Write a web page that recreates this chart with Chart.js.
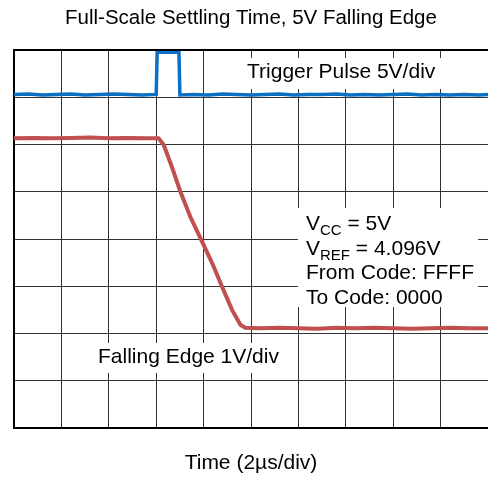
<!DOCTYPE html>
<html>
<head>
<meta charset="utf-8">
<script src="https://cdn.jsdelivr.net/npm/chart.js@4/dist/chart.umd.min.js"></script>
<style>
  html, body { margin: 0; padding: 0; background: #fff; }
  #wrap { width: 488px; height: 479px; position: relative; }
</style>
</head>
<body>
<div id="wrap"><canvas id="c" width="488" height="479"></canvas></div>
<script>
// Time axis in divisions (2 µs/div), vertical axis in screen divisions
const triggerX = [0, 0.3, 0.6, 0.9, 1.2, 1.5, 1.8, 2.1, 2.4, 2.7, 3.0, 3.02, 3.48, 3.50, 3.8, 4.1, 4.4, 4.7, 5.0, 5.3, 5.6, 5.9, 6.2, 6.5, 6.8, 7.1, 7.4, 7.7, 8.0, 8.3, 8.6, 8.9, 9.2, 9.5, 9.8, 10];
const triggerY = [7.06, 7.07, 7.05, 7.06, 7.07, 7.05, 7.06, 7.07, 7.06, 7.05, 7.06, 7.95, 7.95, 7.05, 7.06, 7.05, 7.07, 7.06, 7.05, 7.06, 7.07, 7.05, 7.06, 7.06, 7.07, 7.05, 7.06, 7.05, 7.06, 7.07, 7.05, 7.06, 7.05, 7.06, 7.05, 7.06];
const edgeX = [0, 0.4, 0.8, 1.2, 1.6, 2.0, 2.4, 2.8, 3.05, 3.16, 3.33, 3.51, 3.72, 3.97, 4.18, 4.39, 4.60, 4.78, 4.88, 5.2, 5.6, 6.0, 6.4, 6.8, 7.2, 7.6, 8.0, 8.4, 8.8, 9.2, 9.6, 10];
const edgeY = [6.13, 6.14, 6.13, 6.14, 6.15, 6.13, 6.14, 6.13, 6.13, 5.99, 5.53, 5.00, 4.47, 3.94, 3.49, 2.99, 2.50, 2.18, 2.12, 2.11, 2.12, 2.11, 2.10, 2.12, 2.11, 2.12, 2.11, 2.10, 2.11, 2.12, 2.11, 2.11];

const titleText = 'Full-Scale Settling Time, 5V Falling Edge';
const xTitleText = 'Time (2µs/div)';
const triggerLabel = 'Trigger Pulse 5V/div';
const edgeLabel = 'Falling Edge 1V/div';
const infoLines = [
  ['V', 'CC', ' = 5V'],
  ['V', 'REF', ' = 4.096V'],
  ['From Code: FFFF', '', ''],
  ['To Code: 0000', '', '']
];

function pts(xs, ys) { return xs.map((x, i) => ({ x: x, y: ys[i] })); }

const FONT = '"Liberation Sans", Arial, Helvetica, sans-serif';

const annotations = {
  id: 'annotations',
  beforeDatasetsDraw(chart) {
    const ctx = chart.ctx;
    ctx.save();
    ctx.fillStyle = '#fff';
    // white backgrounds behind texts
    ctx.fillRect(243, 58, 199, 31);
    ctx.fillRect(94, 343, 192, 30);
    ctx.fillRect(298, 208, 180, 99);
    ctx.fillStyle = '#000';
    ctx.textBaseline = 'alphabetic';
    ctx.textAlign = 'left';
    ctx.font = '21px ' + FONT;
    ctx.fillText(triggerLabel, 247, 78);
    ctx.fillText(edgeLabel, 98, 363);
    let base = 230;
    infoLines.forEach(line => {
      let x = 306;
      ctx.font = '21px ' + FONT;
      ctx.fillText(line[0], x, base);
      x += ctx.measureText(line[0]).width;
      if (line[1]) {
        ctx.font = '15px ' + FONT;
        ctx.fillText(line[1], x, base + 5);
        x += ctx.measureText(line[1]).width;
        ctx.font = '21px ' + FONT;
        ctx.fillText(line[2], x, base);
      }
      base += 24.5;
    });
    ctx.restore();
  },
  afterDraw(chart) {
    const ctx = chart.ctx;
    const a = chart.chartArea;
    ctx.save();
    ctx.strokeStyle = '#000';
    ctx.lineWidth = 2;
    ctx.beginPath();
    ctx.moveTo(a.left, a.top);
    ctx.lineTo(a.right, a.top);
    ctx.stroke();
    ctx.restore();
  }
};

new Chart(document.getElementById('c'), {
  type: 'scatter',
  data: {
    datasets: [
      {
        label: 'Trigger',
        data: pts(triggerX, triggerY),
        showLine: true,
        borderColor: '#0b6fc4',
        borderWidth: 3.5,
        pointRadius: 0,
        tension: 0
      },
      {
        label: 'Edge',
        data: pts(edgeX, edgeY),
        showLine: true,
        borderColor: '#c0504d',
        borderWidth: 4,
        pointRadius: 0,
        tension: 0
      }
    ]
  },
  options: {
    responsive: false,
    animation: false,
    layout: { padding: { left: 14, right: 0, top: 0, bottom: 0 } },
    plugins: {
      legend: { display: false },
      tooltip: { enabled: false },
      title: {
        display: true,
        text: titleText,
        color: '#000',
        font: { family: FONT, size: 20.5, weight: 'normal' },
        padding: { top: 5.7, bottom: 19.7 }
      }
    },
    scales: {
      x: {
        type: 'linear',
        min: 0, max: 10,
        ticks: { display: false, stepSize: 1 },
        grid: { color: '#333', lineWidth: 1, drawTicks: false },
        border: { display: true, color: '#000', width: 2 },
        title: {
          display: true,
          text: xTitleText,
          color: '#000',
          font: { family: FONT, size: 21, weight: 'normal' },
          padding: { top: 22.4, bottom: 3.4 }
        }
      },
      y: {
        type: 'linear',
        min: 0, max: 8,
        ticks: { display: false, stepSize: 1 },
        grid: { color: '#333', lineWidth: 1, drawTicks: false },
        border: { display: true, color: '#000', width: 2 }
      }
    }
  },
  plugins: [annotations]
});
</script>
</body>
</html>
